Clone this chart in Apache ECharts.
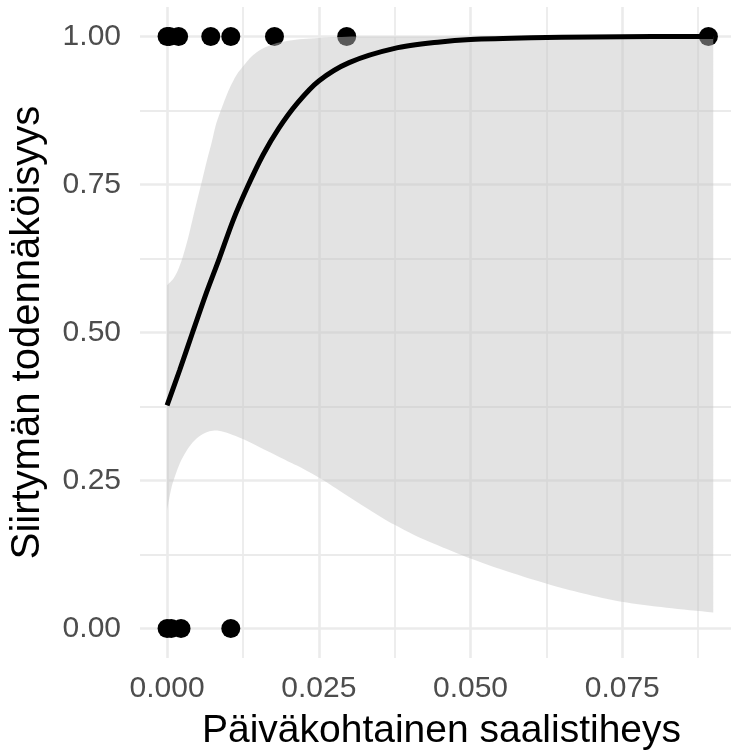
<!DOCTYPE html>
<html>
<head>
<meta charset="utf-8">
<script src="https://cdn.jsdelivr.net/npm/echarts@6.0.0/dist/echarts.min.js"></script>
<style>
  html, body { margin: 0; padding: 0; background: #fff; }
  #chart { width: 731px; height: 756px; }
</style>
</head>
<body>
<div id="chart"></div>
<script>
// gridlines / tick labels
const xMajor = [0, 0.025, 0.05, 0.075];
const xMinor = [0.0125, 0.0375, 0.0625, 0.0875];
const yMajor = [0, 0.25, 0.5, 0.75, 1];
const yMinor = [0.125, 0.375, 0.625, 0.875];

// observations (y = 1 and y = 0)
const obsX1 = [0, 0.0004, 0.0019, 0.0072, 0.0105, 0.0177, 0.0296, 0.0892];
const obsX0 = [0, 0.0007, 0.0023, 0.0105];

// fitted curve
const fitX = [0, 0.0021, 0.0042, 0.0064, 0.0086, 0.0109, 0.0132, 0.0158, 0.0184, 0.0215,
              0.025, 0.03, 0.0375, 0.045, 0.05, 0.06, 0.07, 0.08, 0.09];
const fitY = [0.377, 0.437, 0.50, 0.565, 0.625, 0.69, 0.745, 0.80, 0.845, 0.888,
              0.925, 0.956, 0.980, 0.991, 0.995, 0.998, 0.9995, 1.0, 1.0];

// confidence band edges
const bandUpX = [0, 0.0009, 0.0017, 0.0025, 0.0034, 0.0042, 0.005, 0.0058, 0.0066, 0.0074,
                 0.0081, 0.0091, 0.0099, 0.0107, 0.0115, 0.0124, 0.014, 0.0156, 0.0181, 0.0206,
                 0.0255, 0.032, 0.09];
const bandUpY = [0.58, 0.589, 0.603, 0.625, 0.657, 0.691, 0.725, 0.758, 0.792, 0.823,
                 0.853, 0.882, 0.903, 0.921, 0.936, 0.948, 0.967, 0.979, 0.989, 0.994,
                 0.998, 1.0, 1.0];
const bandLoX = [0, 0.0007, 0.0014, 0.0022, 0.0031, 0.0042, 0.0055, 0.007, 0.0085, 0.0103,
                 0.0125, 0.0151, 0.0206, 0.0222, 0.0255, 0.0288, 0.032, 0.0353, 0.0375, 0.0407,
                 0.044, 0.05, 0.0561, 0.0627, 0.0686, 0.0749, 0.0823, 0.09];
const bandLoY = [0.20, 0.237, 0.26, 0.281, 0.298, 0.314, 0.326, 0.333, 0.334, 0.329,
                 0.32, 0.307, 0.279, 0.271, 0.252, 0.23, 0.209, 0.188, 0.175, 0.158,
                 0.143, 0.118, 0.096, 0.075, 0.059, 0.045, 0.035, 0.027];

const font = "'Liberation Sans', Arial, sans-serif";

const chart = echarts.init(document.getElementById('chart'));

const gridLine = (w) => ({ show: true, lineStyle: { color: '#ebebeb', width: w } });

const xMin = -0.00446, xMax = 0.09292;

const options = {
  animation: false,
  grid: { left: 137, right: 0, top: 7, bottom: 93.5 },
  xAxis: [
    {
      type: 'value', min: xMin, max: xMax,
      axisLine: { show: false },
      axisTick: { show: false, customValues: xMajor },
      axisLabel: {
        customValues: xMajor,
        formatter: (v) => v.toFixed(3),
        fontSize: 30, color: '#4d4d4d', fontFamily: font, margin: 16
      },
      splitLine: gridLine(2.6),
      name: 'Päiväkohtainen saalistiheys',
      nameLocation: 'middle', nameGap: 54,
      nameTextStyle: { fontSize: 39, color: '#000', fontFamily: font, padding: [0, 0, 0, 12] }
    },
    {
      type: 'value', min: xMin, max: xMax,
      axisLine: { show: false },
      axisTick: { show: false, customValues: xMinor },
      axisLabel: { show: false },
      splitLine: gridLine(1.8)
    }
  ],
  yAxis: [
    {
      type: 'value', min: -0.05, max: 1.05,
      axisLine: { show: false },
      axisTick: { show: false, customValues: yMajor },
      axisLabel: {
        customValues: yMajor,
        formatter: (v) => v.toFixed(2),
        fontSize: 30, color: '#4d4d4d', fontFamily: font, margin: 19
      },
      splitLine: gridLine(2.6),
      name: 'Siirtymän todennäköisyys',
      nameLocation: 'middle', nameGap: 92, nameRotate: 90,
      nameTextStyle: { fontSize: 40, color: '#000', fontFamily: font }
    },
    {
      type: 'value', min: -0.05, max: 1.05,
      axisLine: { show: false },
      axisTick: { show: false, customValues: yMinor },
      axisLabel: { show: false },
      splitLine: gridLine(1.8)
    }
  ],
  series: [
    {
      type: 'scatter', z: 1, symbolSize: 19,
      itemStyle: { color: '#000', opacity: 1 },
      data: obsX1.map((x) => [x, 1]).concat(obsX0.map((x) => [x, 0]))
    },
    {
      type: 'custom', z: 2, silent: true,
      data: [[0, 0]],
      renderItem: (params, api) => {
        const up = bandUpX.map((x, i) => api.coord([x, bandUpY[i]]));
        const lo = bandLoX.map((x, i) => api.coord([x, bandLoY[i]])).reverse();
        // corners repeated so the smoothing keeps them sharp
        const pts = [up[0]].concat(up, [up[up.length - 1]], [lo[0]], lo, [lo[lo.length - 1]]);
        return {
          type: 'polygon',
          shape: { points: pts, smooth: 0.3 },
          style: { fill: 'rgba(195,195,195,0.46)' }
        };
      }
    },
    {
      type: 'line', z: 3, showSymbol: false, smooth: 0.3,
      lineStyle: { color: '#000', width: 5 },
      data: fitX.map((x, i) => [x, fitY[i]])
    }
  ]
};

chart.setOption(options);
</script>
</body>
</html>
